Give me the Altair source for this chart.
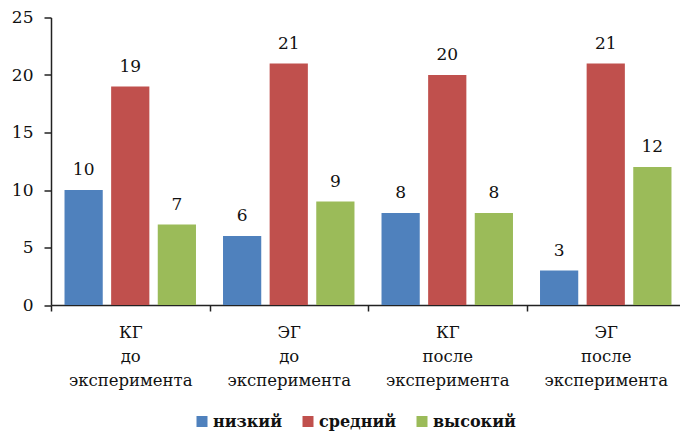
import altair as alt
import pandas as pd

groups = ["КГ|до|эксперимента", "ЭГ|до|эксперимента", "КГ|после|эксперимента", "ЭГ|после|эксперимента"]
levels = ["низкий", "средний", "высокий"]
low = [10, 6, 8, 3]
mid = [19, 21, 20, 21]
high = [7, 9, 8, 12]
colors = ["#4F81BD", "#C0504D", "#9BBB59"]
y_ticks = [0, 5, 10, 15, 20, 25]

rows = []
for i, g in enumerate(groups):
    for lvl, vals in zip(levels, [low, mid, high]):
        rows.append({"group": g, "level": lvl, "value": vals[i]})
df = pd.DataFrame(rows)

FONT = "DejaVu Serif"

x = alt.X(
    "group:N",
    sort=groups,
    scale=alt.Scale(paddingInner=0, paddingOuter=0, range=[0, 634]),
    axis=alt.Axis(
        title=None,
        labelExpr="split(datum.label, '|')",
        labelAngle=0,
        tickBand="extent",
        tickSize=6,
        labelPadding=13,
        labelFont=FONT,
        labelFontSize=16.5,
        labelLineHeight=24,
        labelColor="#111",
        domainColor="#222",
        domainWidth=1.5,
        tickColor="#222",
        tickWidth=1.5,
    ),
)
xo = alt.XOffset(
    "level:N",
    sort=levels,
    scale=alt.Scale(paddingInner=0.18, paddingOuter=0.29),
)
y = alt.Y(
    "value:Q",
    scale=alt.Scale(domain=[0, 25], nice=False, zero=True),
    axis=alt.Axis(
        title=None,
        values=y_ticks,
        grid=False,
        tickSize=7,
        labelPadding=11,
        labelFont=FONT,
        labelFontSize=17,
        labelColor="#111",
        domainColor="#222",
        domainWidth=1.5,
        tickColor="#222",
        tickWidth=1.5,
    ),
)

bars = alt.Chart(df).mark_bar().encode(
    x=x,
    xOffset=xo,
    y=y,
    color=alt.Color(
        "level:N",
        sort=levels,
        scale=alt.Scale(domain=levels, range=colors),
        legend=alt.Legend(
            title=None,
            orient="none",
            direction="horizontal",
            legendX=143,
            legendY=396,
            symbolType="square",
            symbolSize=121,
            symbolStrokeWidth=0,
            labelFont=FONT,
            labelFontSize=16,
            labelFontWeight="bold",
            labelColor="#111",
            labelOffset=3,
            columnPadding=17,
        ),
    ),
)

labels = alt.Chart(df).mark_text(
    dy=-15, baseline="alphabetic", font=FONT, fontSize=17, color="#111"
).encode(
    x=alt.X("group:N", sort=groups),
    xOffset=alt.XOffset("level:N", sort=levels),
    y=alt.Y("value:Q"),
    text=alt.Text("value:Q"),
)

chart = (
    alt.layer(bars, labels)
    .properties(
        width=629,
        height=287.5,
        autosize=alt.AutoSizeParams(type="none"),
        padding={"left": 51, "top": 17.5, "right": 0, "bottom": 128},
        background="white",
    )
    .configure_view(stroke=None)
)

chart.save("out.html", embed_options={"renderer": "svg", "actions": False})
